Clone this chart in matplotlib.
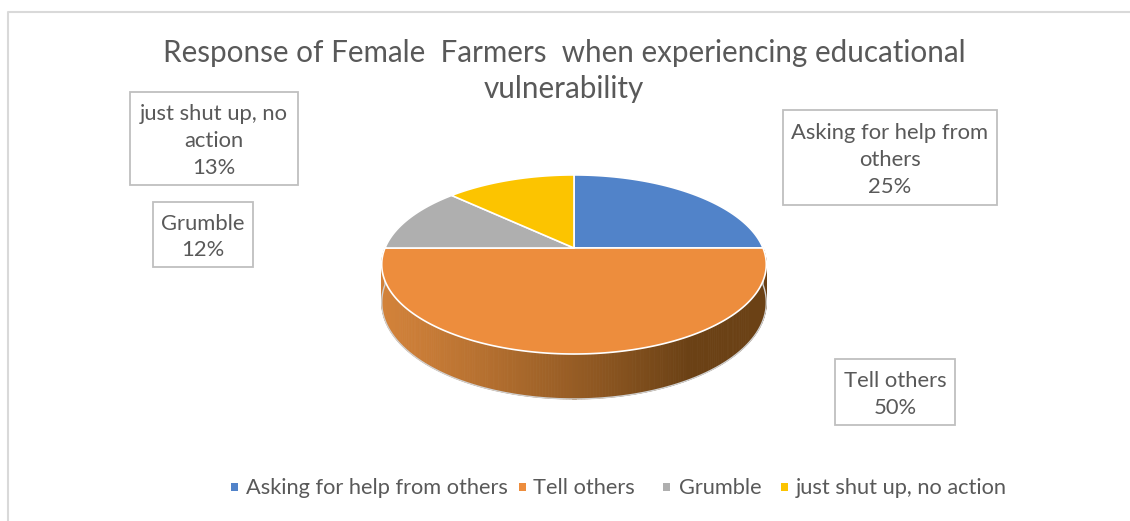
import numpy as np
import matplotlib
matplotlib.use("Agg")
import matplotlib.pyplot as plt
from matplotlib.patches import Polygon, Rectangle

# ---------------- data ----------------
title_lines = ["Response of Female  Farmers  when experiencing educational", "vulnerability"]
categories = ["Asking for help from others", "Tell others", "Grumble", "just shut up, no action"]
values = [25, 50, 12, 13]
label_lines = [["Asking for help from", "others", "25%"],
               ["Tell others", "50%"],
               ["Grumble", "12%"],
               ["just shut up, no", "action", "13%"]]
colors = ["#5183C9", "#ED8D3D", "#AFAFAF", "#FCC400"]

TEXT = "#595959"
FONT = ["Lato", "DejaVu Sans"]

W, H = 1130, 521
fig = plt.figure(figsize=(W / 100, H / 100), dpi=100)
ax = fig.add_axes([0, 0, 1, 1])
ax.set_xlim(0, W)
ax.set_ylim(H, 0)
ax.axis("off")

# chart frame (top + left visible)
ax.plot([7.5, 7.5, W + 5], [H + 5, 11.5, 11.5], color="#D9D9D9", lw=1.5, solid_capstyle="butt")

# ---------------- 3D pie geometry ----------------
cx, cy = 574.0, 248.0
A, B, k, D = 189.0, 86.5, 0.184, 36.7


def proj(theta, h=0.0):
    X = np.cos(theta)
    Z = np.sin(theta)
    s = 1.0 + k * Z
    return cx + A * X / s, cy - B * Z / s + h * D / s


total = float(sum(values))
bounds = [np.pi / 2]
for v in values:
    bounds.append(bounds[-1] - 2 * np.pi * v / total)

# side face (front half)
L = np.array([210, 130, 58]) / 255.0
Dk = np.array([107, 65, 21]) / 255.0
ths = np.linspace(np.pi, 2 * np.pi, 240)
for i in range(len(ths) - 1):
    t0, t1 = ths[i], ths[i + 1]
    xa, ya = proj(t0)
    xb, yb = proj(t1)
    xa2, ya2 = proj(t0, 1.0)
    xb2, yb2 = proj(t1, 1.0)
    xm = 0.5 * (xa + xb)
    f = np.clip((xm - 384) / (690 - 384), 0, 1) ** 1.15
    c = L * (1 - f) + Dk * f
    ax.add_patch(Polygon([(xa, ya), (xb, yb), (xb2, yb2), (xa2, ya2)],
                         closed=True, facecolor=c, edgecolor=c, lw=0.6, zorder=2))

tt = np.linspace(np.pi, 2 * np.pi, 200)
bx, by = proj(tt, 1.0)
lx0, ly0 = proj(np.pi)
rx0, ry0 = proj(2 * np.pi)
ax.plot(np.r_[lx0, bx, rx0], np.r_[ly0, by, ry0], color="#D0D0D0", lw=1.0, zorder=3)

# top faces
for i, col in enumerate(colors):
    a0, a1 = bounds[i], bounds[i + 1]
    t = np.linspace(a0, a1, 200)
    px, py = proj(t)
    pts = np.column_stack([np.r_[cx, px], np.r_[cy, py]])
    ax.add_patch(Polygon(pts, closed=True, facecolor=col, edgecolor="white",
                         lw=1.2, joinstyle="round", zorder=4))

# ---------------- title ----------------
for line, yb in zip(title_lines, [62, 98]):
    ax.text(564, yb, line, ha="center", va="baseline", fontsize=21.3, color=TEXT,
            family=FONT, zorder=6)

# ---------------- data label boxes ----------------
boxes = [
    (783, 110, 997, 205),   # Asking
    (835, 359, 955, 425),   # Tell others
    (153, 202, 253, 267),   # Grumble
    (130, 92, 298, 185),    # just shut up
]
LS = 27.0
for lines, (x0, y0, x1, y1) in zip(label_lines, boxes):
    ax.add_patch(Rectangle((x0, y0), x1 - x0, y1 - y0, facecolor="white",
                           edgecolor="#BFBFBF", lw=1.3, zorder=5))
    n = len(lines)
    ymid = (y0 + y1) / 2 + 8.5
    for j, ln in enumerate(lines):
        yb = ymid + (j - (n - 1) / 2) * LS
        ax.text((x0 + x1) / 2, yb, ln, ha="center", va="baseline",
                fontsize=15.8, color=TEXT, family=FONT, zorder=6)

# ---------------- legend ----------------
leg_sq_x = [234, 522, 666, 784]
leg_tx_x = [246, 533, 679, 796]
for c, name, sx, tx in zip(colors, categories, leg_sq_x, leg_tx_x):
    ax.add_patch(Rectangle((sx - 3.5, 483), 7, 8, facecolor=c, edgecolor="none", zorder=6))
    ax.text(tx, 494, name, ha="left", va="baseline", fontsize=15.7, color=TEXT,
            family=FONT, zorder=6)

fig.savefig("out.png", dpi=100, facecolor="white")
